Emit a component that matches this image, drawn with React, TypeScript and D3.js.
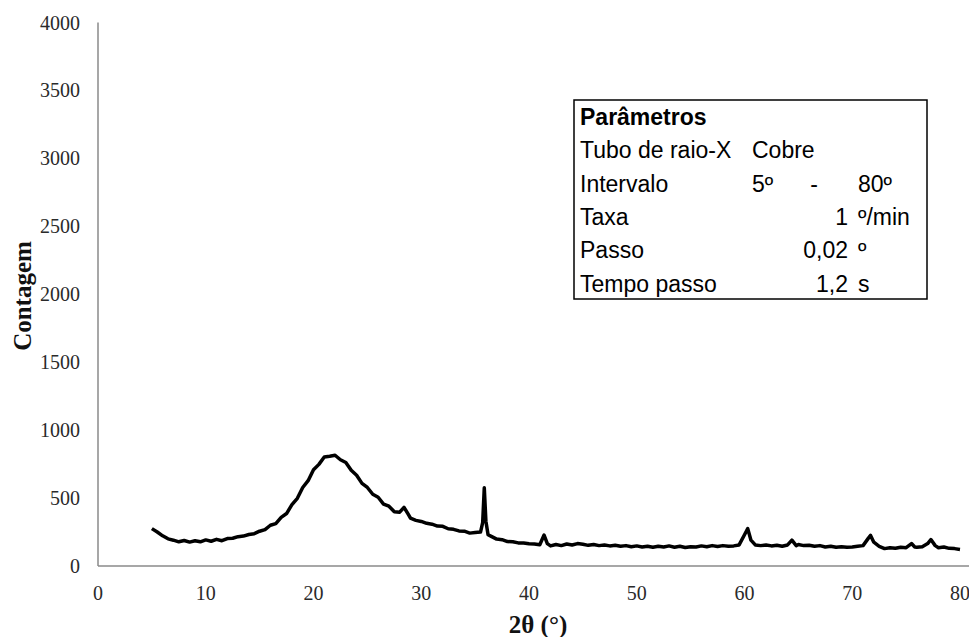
import React, { useRef, useEffect } from 'react';
import * as d3 from 'd3';

// 2θ positions (degrees) and counts
const twoTheta = [
  5.0, 5.5, 6.0, 6.5, 7.0, 7.5, 8.0, 8.5, 9.0, 9.5, 10.0, 10.5, 11.0, 11.5, 12.0, 12.5,
  13.0, 13.5, 14.0, 14.5, 15.0, 15.5, 16.0, 16.5, 17.0, 17.5, 18.0, 18.5, 19.0, 19.5,
  20.0, 20.5, 21.0, 21.5, 22.0, 22.5, 23.0, 23.5, 24.0, 24.5, 25.0, 25.5, 26.0, 26.5,
  27.0, 27.5, 28.0, 28.4, 28.8, 29.0, 29.5, 30.0, 30.5, 31.0, 31.5, 32.0, 32.5, 33.0,
  33.5, 34.0, 34.5, 35.0, 35.5, 35.7, 35.85, 36.0, 36.2, 36.5, 37.0, 37.5, 38.0, 38.5,
  39.0, 39.5, 40.0, 40.5, 41.0, 41.4, 41.7, 42.0, 42.5, 43.0, 43.5, 44.0, 44.5, 45.0,
  45.5, 46.0, 46.5, 47.0, 47.5, 48.0, 48.5, 49.0, 49.5, 50.0, 50.5, 51.0, 51.5, 52.0,
  52.5, 53.0, 53.5, 54.0, 54.5, 55.0, 55.5, 56.0, 56.5, 57.0, 57.5, 58.0, 58.5, 59.0,
  59.5, 60.0, 60.3, 60.6, 61.0, 61.5, 62.0, 62.5, 63.0, 63.5, 64.0, 64.4, 64.8, 65.0,
  65.5, 66.0, 66.5, 67.0, 67.5, 68.0, 68.5, 69.0, 69.5, 70.0, 70.5, 71.0, 71.5, 71.7,
  72.0, 72.5, 73.0, 73.5, 74.0, 74.5, 75.0, 75.5, 75.8, 76.0, 76.5, 77.0, 77.3, 77.7,
  78.0, 78.5, 79.0, 79.5, 80.0,
];
const counts = [
  275, 250, 222, 200, 190, 178, 188, 176, 186, 178, 192, 182, 196, 186, 202, 204,
  216, 220, 232, 238, 256, 268, 300, 312, 358, 386, 452, 498, 578, 628,
  708, 748, 802, 808, 815, 782, 762, 705, 668, 608, 578, 528, 506, 456,
  440, 400, 396, 432, 380, 352, 336, 328, 314, 308, 294, 292, 274, 270,
  258, 256, 242, 246, 250, 320, 575, 330, 230, 218, 198, 194, 180, 178,
  170, 170, 164, 162, 156, 228, 165, 148, 158, 150, 162, 155, 165, 160,
  152, 158, 150, 155, 148, 152, 145, 150, 142, 148, 140, 146, 138, 145,
  140, 148, 138, 145, 136, 142, 140, 148, 142, 150, 144, 150, 146, 148,
  155, 230, 275, 190, 155, 150, 155, 148, 152, 145, 155, 190, 150, 158,
  150, 152, 145, 150, 140, 146, 138, 142, 138, 140, 145, 150, 205, 225,
  175, 145, 128, 135, 130, 138, 135, 165, 140, 138, 142, 165, 195, 150,
  135, 140, 130, 128, 122,
];

const yTicks = [0, 500, 1000, 1500, 2000, 2500, 3000, 3500, 4000];
const xTicks = [0, 10, 20, 30, 40, 50, 60, 70, 80];

// parameter table: label, then value cells (text, anchor column)
const paramTitle = 'Parâmetros';
const paramLabels = ['Tubo de raio-X', 'Intervalo', 'Taxa', 'Passo', 'Tempo passo'];
const paramValues = [
  [['Cobre', 'a']],
  [['5º', 'a'], ['-', 'dash'], ['80º', 'c']],
  [['1', 'r'], ['º/min', 'c']],
  [['0,02', 'r'], ['º', 'c']],
  [['1,2', 'r'], ['s', 'c']],
];

function App() {
  const ref = useRef(null);
  const width = 969;
  const height = 637;

  useEffect(() => {
    const svg = d3.select(ref.current);
    svg.selectAll('*').remove();

    const x = d3.scaleLinear().domain([0, 80]).range([98, 960]);
    const y = d3.scaleLinear().domain([0, 4000]).range([566, 22.5]);

    const serif = "'Liberation Serif', 'Times New Roman', serif";
    const sans = "'Liberation Sans', Arial, sans-serif";

    // axes lines
    svg.append('line')
      .attr('x1', x(0)).attr('x2', x(0))
      .attr('y1', y(4000)).attr('y2', y(0))
      .attr('stroke', '#8a8a8a').attr('stroke-width', 1.5);
    svg.append('line')
      .attr('x1', x(0)).attr('x2', 969)
      .attr('y1', y(0)).attr('y2', y(0))
      .attr('stroke', '#8a8a8a').attr('stroke-width', 1.5);

    svg.append('g')
      .selectAll('text')
      .data(yTicks)
      .enter()
      .append('text')
      .attr('x', 80)
      .attr('y', (d) => y(d))
      .attr('dy', '0.35em')
      .attr('text-anchor', 'end')
      .attr('font-family', serif)
      .attr('font-size', 20)
      .attr('fill', '#2a2a2a')
      .text((d) => d);

    svg.append('g')
      .selectAll('text')
      .data(xTicks)
      .enter()
      .append('text')
      .attr('x', (d) => x(d))
      .attr('y', 600)
      .attr('text-anchor', 'middle')
      .attr('font-family', serif)
      .attr('font-size', 20)
      .attr('fill', '#2a2a2a')
      .text((d) => d);

    svg.append('text')
      .attr('transform', 'translate(31,296) rotate(-90)')
      .attr('text-anchor', 'middle')
      .attr('font-family', serif)
      .attr('font-weight', 'bold')
      .attr('font-size', 25)
      .attr('fill', '#111')
      .text('Contagem');

    svg.append('text')
      .attr('x', 538)
      .attr('y', 633)
      .attr('text-anchor', 'middle')
      .attr('font-family', serif)
      .attr('font-weight', 'bold')
      .attr('font-size', 25)
      .attr('fill', '#111')
      .text('2θ (°)');

    // data line
    const points = twoTheta.map((t, i) => [t, counts[i]]);
    const line = d3.line()
      .x((d) => x(d[0]))
      .y((d) => y(d[1]));
    svg.append('path')
      .datum(points)
      .attr('d', line)
      .attr('fill', 'none')
      .attr('stroke', '#000')
      .attr('stroke-width', 3.5)
      .attr('stroke-linejoin', 'round');

    // parameter box
    const box = { left: 574, top: 100, right: 927, bottom: 299 };
    svg.append('rect')
      .attr('x', box.left).attr('y', box.top)
      .attr('width', box.right - box.left).attr('height', box.bottom - box.top)
      .attr('fill', '#fff').attr('stroke', '#000').attr('stroke-width', 1.5);

    const rowY = (i) => 125 + i * 33.3;
    const colX = { a: 752, dash: 814, c: 858, r: 848 };
    const g = svg.append('g').attr('font-family', sans).attr('font-size', 23).attr('fill', '#000');

    g.append('text')
      .attr('x', 580).attr('y', rowY(0))
      .attr('font-weight', 'bold')
      .text(paramTitle);

    paramLabels.forEach((lab, i) => {
      g.append('text').attr('x', 580).attr('y', rowY(i + 1)).text(lab);
      paramValues[i].forEach(([txt, col]) => {
        g.append('text')
          .attr('x', colX[col])
          .attr('y', rowY(i + 1))
          .attr('text-anchor', col === 'r' ? 'end' : col === 'dash' ? 'middle' : 'start')
          .text(txt);
      });
    });
  }, []);

  return (
    <svg
      ref={ref}
      width={width}
      height={height}
      style={{ position: 'absolute', left: 0, top: 0, background: '#fff' }}
    ></svg>
  );
}

export default App;
